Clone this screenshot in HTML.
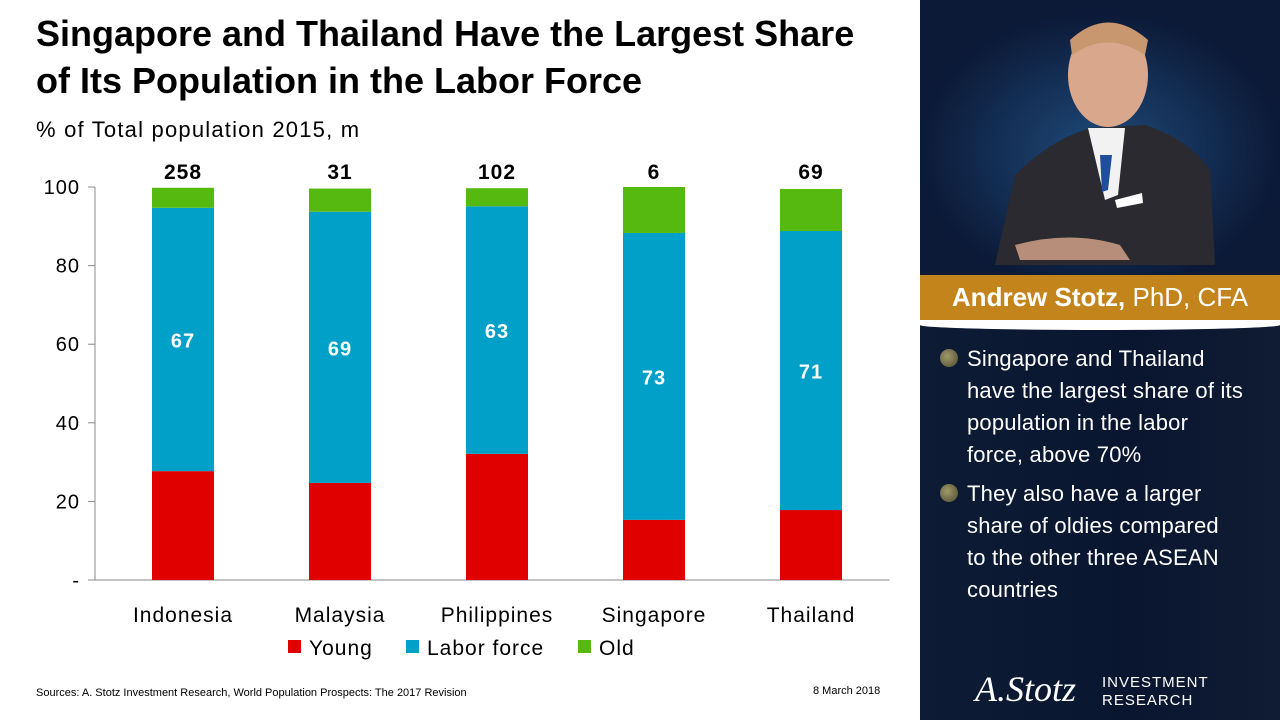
<!DOCTYPE html>
<html><head><meta charset="utf-8">
<style>
body{margin:0;width:1280px;height:720px;overflow:hidden;background:#fff;font-family:"Liberation Sans",sans-serif;position:relative}
.title{position:absolute;left:36px;top:10px;font-size:36px;font-weight:bold;line-height:47px;color:#000;letter-spacing:0px;white-space:nowrap}
.sub{position:absolute;left:36px;top:117px;font-size:22px;color:#000;letter-spacing:1.2px}
.src{position:absolute;left:36px;top:687px;font-size:11px;color:#000}
.date{position:absolute;left:813px;top:685px;font-size:11px;color:#000}
.panel{position:absolute;left:920px;top:0;width:360px;height:720px;background:linear-gradient(90deg,#0d1b35,#0a1630 60%,#101c33)}
.banner{position:absolute;left:920px;top:275px;width:360px;height:45px;background:#c4841c;color:#fff;font-size:26px;line-height:45px;text-align:center}
.bul{position:absolute;left:967px;color:#fff;font-size:22px;line-height:32px;width:300px;letter-spacing:0.2px;white-space:nowrap}
.dot{position:absolute;left:940px;width:18px;height:18px;border-radius:50%;background:radial-gradient(circle at 40% 40%,#a09a6a,#4a4a30)}
svg text{letter-spacing:1px}
</style></head><body>
<div class="title">Singapore and Thailand Have the Largest Share<br>of Its Population in the Labor Force</div>
<div class="sub">% of Total population 2015, m</div>
<svg id="chart" width="920" height="680" style="position:absolute;left:0;top:0"></svg>
<div class="src">Sources: A. Stotz Investment Research, World Population Prospects: The 2017 Revision</div>
<div class="date">8 March 2018</div>
<div class="panel">
<svg width="360" height="275">
<defs><radialGradient id="g" cx="50%" cy="55%" r="50%"><stop offset="0" stop-color="#1e4a7a"/><stop offset="1" stop-color="#0c1a38"/></radialGradient></defs>
<rect width="360" height="275" fill="url(#g)"/>
<path d="M75 265 L95 175 Q130 140 170 128 L225 125 Q270 140 290 170 L295 265 Z" fill="#2a2a30"/>
<path d="M168 128 L205 128 L198 195 L185 200 Z" fill="#f2f2f2"/>
<path d="M180 155 L192 155 L188 190 L182 192 Z" fill="#1f4f9a"/>
<ellipse cx="188" cy="75" rx="40" ry="52" fill="#d9a88c"/>
<path d="M150 40 Q188 5 228 40 L225 55 Q188 30 152 55 Z" fill="#c8966f"/>
<path d="M95 245 Q150 230 200 245 L210 260 L100 260 Z" fill="#d9a88c" opacity="0.8"/>
<path d="M195 200 L222 193 L223 203 L197 208 Z" fill="#fff"/>
</svg>
<div style="position:absolute;left:0;top:320px;width:360px;height:10px;background:#fff;border-radius:0 0 50% 50%"></div>
</div>
<div class="banner"><b>Andrew Stotz,</b> PhD, CFA</div>
<div class="dot" style="top:349px"></div>
<div class="bul" style="top:343px">Singapore and Thailand<br>have the largest share of its<br>population in the labor<br>force, above 70%</div>
<div class="dot" style="top:484px"></div>
<div class="bul" style="top:478px">They also have a larger<br>share of oldies compared<br>to the other three ASEAN<br>countries</div>
<div style="position:absolute;left:975px;top:668px;font-family:'Liberation Serif',serif;font-style:italic;font-size:36px;color:#fff">A.Stotz</div>
<div style="position:absolute;left:1102px;top:674px;font-size:15px;color:#fff;line-height:18px;letter-spacing:1px">INVESTMENT<br>RESEARCH</div>
<script>
const categories=["Indonesia","Malaysia","Philippines","Singapore","Thailand"];
const young=[27.7,24.7,32.1,15.3,17.8];
const labor=[67,69,63,73,71];
const old=[5.1,5.9,4.6,11.7,10.7];
const totals=["258","31","102","6","69"];
const laborLabels=["67","69","63","73","71"];
const yTicks=[0,20,40,60,80,100];
const yTickLabels=["-","20","40","60","80","100"];
const svg=document.getElementById('chart');const NS='http://www.w3.org/2000/svg';
const axisX=95,x0=104.5,x1=889.5,yTop=187,yBot=580;
const y=v=>yBot-(v/100)*(yBot-yTop);
const band=(x1-x0)/categories.length;
const cx=i=>x0+band*(i+0.5);
const bw=62;
function mk(t,a){const e=document.createElementNS(NS,t);for(const k in a)e.setAttribute(k,a[k]);svg.appendChild(e);return e;}
yTicks.forEach((t,i)=>{const l=mk('line',{x1:axisX-7,x2:axisX,y1:y(t),y2:y(t),stroke:'#888'});
const tx=mk('text',{x:axisX-15,y:y(t)+7,'text-anchor':'end','font-size':20});tx.textContent=yTickLabels[i];});
const ax=mk('line',{x1:axisX,x2:axisX,y1:yTop,y2:yBot,stroke:'#888'});
const bx=mk('line',{x1:axisX,x2:x1,y1:yBot,y2:yBot,stroke:'#888'});
categories.forEach((c,i)=>{
 let base=0;
 [[young[i],'#e00000','bar-young'],[labor[i],'#00a0c8','bar-labor-force'],[old[i],'#56b90f','bar-old']].forEach(([v,col,nm])=>{
  const r=mk('rect',{x:cx(i)-bw/2,y:y(base+v),width:bw,height:y(base)-y(base+v),fill:col});
  base+=v;});
 const lt=mk('text',{x:cx(i),y:y(young[i]+labor[i]/2)+8,'text-anchor':'middle','font-size':20,'font-weight':'bold',fill:'#fff'});lt.textContent=laborLabels[i];
 
 const tt=mk('text',{x:cx(i),y:yTop-8,'text-anchor':'middle','font-size':21,'font-weight':'bold'});tt.textContent=totals[i];
 
 const xl=mk('text',{x:cx(i),y:622,'text-anchor':'middle','font-size':21});xl.textContent=c;
 
});
const leg=[["Young","#e00000",288],["Labor force","#00a0c8",406],["Old","#56b90f",578]];
leg.forEach(([n,c,lx])=>{const r=mk('rect',{x:lx,y:640,width:13,height:13,fill:c});
const t=mk('text',{x:lx+21,y:655,'font-size':21});t.textContent=n;});
</script>
</body></html>
